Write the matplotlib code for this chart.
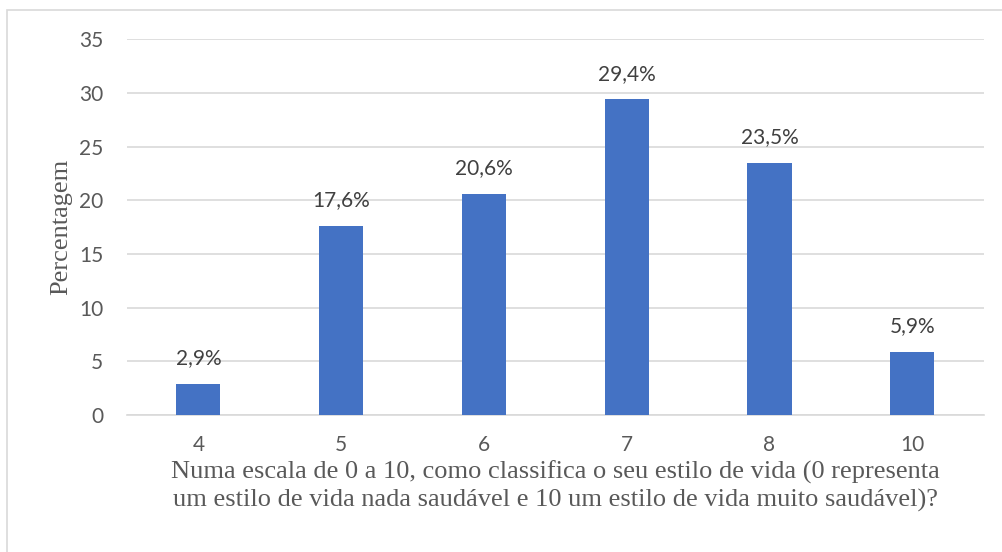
import matplotlib.pyplot as plt
from matplotlib.patches import Rectangle

# =====================================
# Data
# =====================================
categories = ["4", "5", "6", "7", "8", "10"]
percentages = [2.9, 17.6, 20.6, 29.4, 23.5, 5.9]
y_ticks = [0, 5, 10, 15, 20, 25, 30, 35]

x_title = ("Numa escala de 0 a 10, como classifica o seu estilo de vida (0 representa\n"
           "um estilo de vida nada saudável e 10 um estilo de vida muito saudável)?")
y_title = "Percentagem"

num_font = "Lato"
serif_font = "Liberation Serif"

# =====================================
# Figure
# =====================================
fig = plt.figure(figsize=(10.02, 5.52), dpi=100)
ax = fig.add_axes([0.1267, 0.248, 0.855, 0.681])

# light frame around the chart area (left and top edges visible)
fig.patches.append(Rectangle((7 / 1002, -0.1), 1.2, 1 - 10 / 552 + 0.1,
                             transform=fig.transFigure, fill=False,
                             edgecolor="#d9d9d9", linewidth=1.2))

x = range(len(categories))
ax.bar(x, percentages, width=0.31, color="#4472c4", zorder=3)

for xi, v in zip(x, percentages):
    ax.text(xi, v + 1.45, f"{v:.1f}%".replace(".", ","), ha="center", va="bottom",
            fontsize=15, color="#404040", family=num_font)

ax.set_xlim(-0.5, len(categories) - 0.5)
ax.set_ylim(0, 35)
ax.set_yticks(y_ticks)
ax.set_xticks(list(x))
ax.set_xticklabels(categories)

for lbl in ax.get_xticklabels() + ax.get_yticklabels():
    lbl.set_family(num_font)
    lbl.set_fontsize(15)
    lbl.set_color("#595959")

ax.tick_params(axis="both", length=0)
ax.tick_params(axis="x", pad=14)
ax.tick_params(axis="y", pad=17)
ax.grid(axis="y", color="#d9d9d9", linewidth=1.2, zorder=0)
for side in ["top", "right", "left"]:
    ax.spines[side].set_visible(False)
ax.spines["bottom"].set_color("#d9d9d9")
ax.spines["bottom"].set_linewidth(1.2)

ax.set_xlabel(x_title, family=serif_font, fontsize=19, color="#595959",
              linespacing=1.3, labelpad=4)
ax.set_ylabel(y_title, family=serif_font, fontsize=19, color="#595959", labelpad=5)

fig.savefig("out.png", dpi=100)
